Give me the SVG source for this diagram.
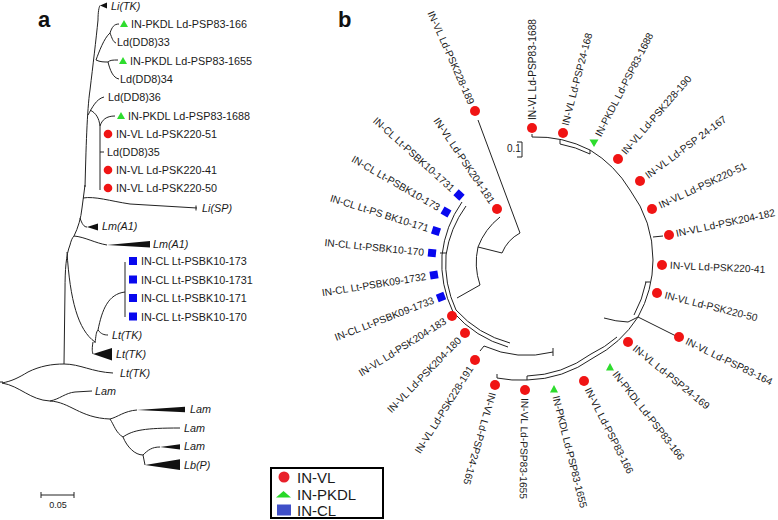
<svg xmlns="http://www.w3.org/2000/svg" width="778" height="520" viewBox="0 0 778 520">
<style>
text{font-family:"Liberation Sans",Arial,Helvetica,sans-serif;fill:#1a1a1a}
.la{font-size:10.8px}
.lb{font-size:10.2px}
.it{font-style:italic}
.br{fill:none;stroke:#222;stroke-width:1}
.vl{fill:#f01414}
.pk{fill:#2edc2e}
.cl{fill:#0808ee}
.wd{fill:#111}
.ttl{font-size:22px;font-weight:bold;fill:#111}
.lg{font-size:15px}
</style>
<defs>
<circle id="ca" r="4.3" class="vl"/>
<polygon id="ta" points="-4,3.5 4,3.5 0,-3.5" class="pk"/>
<rect id="sa" x="-4" y="-4" width="8" height="8" class="cl"/>
<circle id="cb" r="5" class="vl"/>
<rect id="sb" x="-4" y="-4" width="8" height="8" class="cl"/>
</defs>
<rect width="778" height="520" fill="#fff"/>

<!-- ============ PANEL A ============ -->
<text class="ttl" x="38" y="27">a</text>
<g id="a-connectors" class="br">
  <path d="M0,382 L3,382"/>
  <path d="M2,383 C12,381 18,378 28,372 C40,366 52,364 64,364"/>
  <path d="M2,383 C20,386 30,400 50,401 C70,402 80,418 110,419"/>
  <path d="M50,401 C60,399 65,393 75,392 L92,391"/>
  <path d="M110,419 C118,417 124,411 137,410"/>
  <path d="M110,419 C114,425 116,433 123,437"/>
  <path d="M123,437 C133,430 145,428 180,428"/>
  <path d="M123,437 C127,447 135,455 143,455"/>
  <path d="M143,455 C148,450 152,447 160,447"/>
  <path d="M143,455 L145,465"/>
  <path d="M64,364 C80,364 92,372 113,373"/>
  <path d="M64,364 L65,290 C65,270 66,255 70,245 C71,241 72,238 74,236"/>
  <path d="M67,252 C70,300 78,330 95,342"/>
  <path d="M95,343 C96,336 96,332 98,330"/>
  <path d="M98,330 C102,310 108,294 125,292"/>
  <path d="M98,330 C101,334 104,335 108,335"/>
  <path d="M93,342 C92,348 92,351 93,354"/>
  <path d="M125,262 L125,317"/>
  <path d="M74,236 C85,237 95,243 107,245"/>
  <path d="M74,236 C78,228 81,218 82,208 L85,185"/>
  <path d="M80,218 C82,224 84,227 87,227"/>
  <path d="M83,198 C95,196 110,201 130,204 L197,208"/>
  <path d="M196,205.5 L196,210.5"/>
  <path d="M85,187 C86,150 87,110 90,90 C93,65 96,40 98,20 C98,12 99,7 100,5.5"/>
  <path d="M88,115 C92,108 96,99 104,97"/>
  <path d="M90,110 C96,113 99,118 100,126 L100,190"/>
  <path d="M100,126 C102,120 106,116 115,116"/>
  <path d="M100,152 L104,152"/>
  <path d="M96,60 C99,52 104,38 110,33"/>
  <path d="M110,33 C112,27 114,24 119,24"/>
  <path d="M110,33 C112,38 113,42 116,43"/>
  <path d="M96,60 C100,62 104,62 108,62"/>
  <path d="M108,62 C110,60 113,60 118,60"/>
  <path d="M108,62 C110,70 113,78 119,79"/>
</g>
<g id="a-LiTK1"><polygon class="wd" points="100,5.5 107,2.5 107,8.5"/><text class="la it" x="111" y="9.5">Li(TK)</text></g>
<g id="a-PSP83-166"><use href="#ta" x="124" y="23.5"/><text class="la" x="131" y="27.5">IN-PKDL Ld-PSP83-166</text></g>
<g id="a-DD8-33"><text class="la" x="117" y="46">Ld(DD8)33</text></g>
<g id="a-PSP83-1655"><use href="#ta" x="123" y="60.5"/><text class="la" x="130" y="64.5">IN-PKDL Ld-PSP83-1655</text></g>
<g id="a-DD8-34"><text class="la" x="120" y="83">Ld(DD8)34</text></g>
<g id="a-DD8-36"><text class="la" x="108" y="101">Ld(DD8)36</text></g>
<g id="a-PSP83-1688"><use href="#ta" x="121" y="115.5"/><text class="la" x="128" y="119.5">IN-PKDL Ld-PSP83-1688</text></g>
<g id="a-PSK220-51"><use href="#ca" x="108" y="134"/><text class="la" x="116" y="138">IN-VL Ld-PSK220-51</text></g>
<g id="a-DD8-35"><text class="la" x="107" y="156">Ld(DD8)35</text></g>
<g id="a-PSK220-41"><use href="#ca" x="108" y="170"/><text class="la" x="116" y="174">IN-VL Ld-PSK220-41</text></g>
<g id="a-PSK220-50"><use href="#ca" x="108" y="188"/><text class="la" x="116" y="192">IN-VL Ld-PSK220-50</text></g>
<g id="a-LiSP"><text class="la it" x="202" y="212">Li(SP)</text></g>
<g id="a-LmA1-1"><polygon class="wd" points="87,227 98,223.5 98,230.5"/><text class="la it" x="102" y="230">Lm(A1)</text></g>
<g id="a-LmA1-2"><polygon class="wd" points="107,245 150,241 150,247.5"/><text class="la it" x="153" y="248">Lm(A1)</text></g>
<g id="a-PSBK10-173"><use href="#sa" x="133" y="261"/><text class="la" x="141" y="265">IN-CL Lt-PSBK10-173</text></g>
<g id="a-PSBK10-1731"><use href="#sa" x="133" y="279.5"/><text class="la" x="141" y="283.5">IN-CL Lt-PSBK10-1731</text></g>
<g id="a-PSBK10-171"><use href="#sa" x="133" y="298"/><text class="la" x="141" y="302">IN-CL Lt-PSBK10-171</text></g>
<g id="a-PSBK10-170"><use href="#sa" x="133" y="316.5"/><text class="la" x="141" y="320.5">IN-CL Lt-PSBK10-170</text></g>
<g id="a-LtTK1"><text class="la it" x="112" y="339">Lt(TK)</text></g>
<g id="a-LtTK2"><polygon class="wd" points="93,354 112,348 112,360.5"/><text class="la it" x="116" y="358">Lt(TK)</text></g>
<g id="a-LtTK3"><text class="la it" x="120" y="376.5">Lt(TK)</text></g>
<g id="a-Lam1"><text class="la it" x="95" y="395">Lam</text></g>
<g id="a-Lam2"><polygon class="wd" points="137,410 185,406.7 185,412.3"/><text class="la it" x="190" y="413">Lam</text></g>
<g id="a-Lam3"><text class="la it" x="184" y="432">Lam</text></g>
<g id="a-Lam4"><polygon class="wd" points="160,447 180,444.3 180,449.5"/><text class="la it" x="184" y="450">Lam</text></g>
<g id="a-LbP"><polygon class="wd" points="145,465 180,459.3 180,470"/><text class="la it" x="184" y="468.5">Lb(P)</text></g>
<g id="a-scale">
  <path class="br" d="M41,495 L74,495 M41,492 L41,498 M74,492 L74,498"/>
  <text x="58" y="507.5" text-anchor="middle" style="font-size:9px">0.05</text>
</g>

<!-- ============ PANEL B ============ -->
<text class="ttl" x="338" y="27">b</text>
<g id="b-connectors" class="br">
  <path d="M532,134 L532,137 A118,118 0 0 1 590,150 A118,118 0 0 1 630,190 A118,118 0 0 1 653,260 A118,118 0 0 1 638,317 A118,118 0 0 1 593,358 A118,118 0 0 1 527,380 A118,118 0 0 1 497,378 L497,374"/>
  <path d="M560,140 L560,144 A114,114 0 0 1 590,154 L590,150"/>
  <path d="M645,282 L650,282 M646,282 A114,114 0 0 1 634,315"/>
  <path d="M617,337 A114,114 0 0 1 591,354 A114,114 0 0 1 527,376 L527,380"/>
  <path d="M604,318 A95,95 0 0 0 628,322 L638,317"/>
  <path d="M638,317 L676,336"/>
  <path d="M653,237 L663,236"/>
  <path d="M553,348 L553,356 M480,351 L484,346 A105,105 0 0 0 553,352"/>
  <path d="M462,202 A115,115 0 0 0 442,255 A115,115 0 0 0 453,312 A115,115 0 0 0 508,347"/>
  <path d="M466,206 A111,111 0 0 0 446,255 A111,111 0 0 0 456,310 A111,111 0 0 0 510,343"/>
  <path d="M440,253 L446,253"/>
  <path d="M478,120 L520,233"/>
  <path d="M520,233 A40,40 0 0 0 502,253"/>
  <path d="M502,253 L478,247"/>
  <path d="M500,217 A70,70 0 0 0 478,247"/>
  <path d="M478,247 A70,70 0 0 0 480,285"/>
  <path d="M480,285 L457,298"/>
</g>
<g id="b-scale">
  <path class="br" d="M517,142 L522,142 L522,157 L517,157"/>
  <text x="507" y="152" style="font-size:10px">0.1</text>
</g>
<g id="b-PSK220-41"><use href="#cb" x="662" y="265"/><text class="lb" dy=".35em" transform="translate(670,265.3) rotate(2.4)">IN-VL Ld-PSK220-41</text></g>
<g id="b-PSK220-50"><use href="#cb" x="657" y="293"/><text class="lb" dy=".35em" transform="translate(664.8,294.9) rotate(14)">IN-VL Ld-PSK220-50</text></g>
<g id="b-PSP83-164"><use href="#cb" x="679" y="337"/><text class="lb" dy=".35em" transform="translate(686.2,340.5) rotate(26)">IN-VL Ld-PSP83-164</text></g>
<g id="b-PSP24-169"><use href="#cb" x="628" y="342"/><text class="lb" dy=".35em" transform="translate(634.2,347) rotate(39)">IN-VL Ld-PSP24-169</text></g>
<g id="b-PKDL-PSP83-166"><polygon class="pk" points="606,370.5 614,370.5 610,363"/><text class="lb" dy=".35em" transform="translate(614.9,372.3) rotate(52)">IN-PKDL Ld-PSP83-166</text></g>
<g id="b-VL-PSP83-166"><use href="#cb" x="584" y="381"/><text class="lb" dy=".35em" transform="translate(587.6,388.1) rotate(63)">IN-VL Ld-PSP83-166</text></g>
<g id="b-PKDL-PSP83-1655"><polygon class="pk" points="550,392.5 558,392.5 554,385"/><text class="lb" dy=".35em" transform="translate(555.9,395.8) rotate(76)">IN-PKDL Ld-PSP83-1655</text></g>
<g id="b-VL-PSP83-1655"><use href="#cb" x="525" y="390"/><text class="lb" dy=".35em" transform="translate(524.9,398) rotate(91)">IN-VL Ld-PSP83-1655</text></g>
<g id="b-PSP24-165"><use href="#cb" x="495" y="385"/><text class="lb" dy=".35em" transform="translate(492.8,392.7) rotate(106)">IN-VL Ld-PSP24-165</text></g>
<g id="b-PSK204-182"><use href="#cb" x="669" y="235"/><text class="lb" dy=".35em" transform="translate(676,233.4) rotate(-12)">IN-VL Ld-PSK204-182</text></g>
<g id="b-PSK220-51"><use href="#cb" x="652" y="209"/><text class="lb" dy=".35em" transform="translate(659.3,205.6) rotate(-25)">IN-VL Ld-PSK220-51</text></g>
<g id="b-PSP24-167"><use href="#cb" x="640" y="181"/><text class="lb" dy=".35em" transform="translate(646.4,176.2) rotate(-36.5)">IN-VL Ld-PSP 24-167</text></g>
<g id="b-PSK228-190"><use href="#cb" x="618" y="159"/><text class="lb" dy=".35em" transform="translate(623.2,153) rotate(-49)">IN-VL Ld-PSK228-190</text></g>
<g id="b-PKDL-PSP83-1688"><polygon class="pk" points="589.5,139.5 598.5,139.5 594,147"/><text class="lb" dy=".35em" transform="translate(597.7,135.9) rotate(-62.7)">IN-PKDL Ld-PSP83-1688</text></g>
<g id="b-PSP24-168"><use href="#cb" x="563" y="133"/><text class="lb" dy=".35em" transform="translate(565,125.3) rotate(-75.5)">IN-VL Ld-PSP24-168</text></g>
<g id="b-VL-PSP83-1688"><use href="#cb" x="532" y="128"/><text class="lb" dy=".35em" transform="translate(532,120) rotate(-90)">IN-VL Ld-PSP83-1688</text></g>
<g id="b-PSK228-189"><use href="#cb" x="475" y="111"/><text class="lb" dy=".35em" text-anchor="end" transform="translate(471.7,103.7) rotate(66)">IN-VL Ld-PSK228-189</text></g>
<g id="b-PSK204-181"><use href="#cb" x="497" y="209"/><text class="lb" dy=".35em" text-anchor="end" transform="translate(492.5,202.4) rotate(56)">IN-VL Ld-PSK204-181</text></g>
<g id="b-PSBK10-1731"><use href="#sb" transform="translate(459,195) rotate(42)"/><text class="lb" dy=".35em" text-anchor="end" transform="translate(453.1,189.6) rotate(42)">IN-CL Lt-PSBK10-1731</text></g>
<g id="b-PSBK10-173"><use href="#sb" transform="translate(446,212) rotate(30)"/><text class="lb" dy=".35em" text-anchor="end" transform="translate(439.1,208) rotate(30)">IN-CL Lt-PSBK10-173</text></g>
<g id="b-PSBK10-171"><use href="#sb" transform="translate(436,231) rotate(17.5)"/><text class="lb" dy=".35em" text-anchor="end" transform="translate(428.4,228.6) rotate(17.5)">IN-CL Lt-PS BK10-171</text></g>
<g id="b-PSBK10-170"><use href="#sb" transform="translate(432,253) rotate(5.6)"/><text class="lb" dy=".35em" text-anchor="end" transform="translate(424,252.2) rotate(5.6)">IN-CL Lt-PSBK10-170</text></g>
<g id="b-PSBK09-1732"><use href="#sb" transform="translate(434,275) rotate(-9)"/><text class="lb" dy=".35em" text-anchor="end" transform="translate(426.1,276.3) rotate(-9)">IN-CL Lt-PSBK09-1732</text></g>
<g id="b-PSBK09-1733"><use href="#sb" transform="translate(441,297) rotate(-21)"/><text class="lb" dy=".35em" text-anchor="end" transform="translate(433.5,299.9) rotate(-21)">IN-CL Lt-PSBK09-1733</text></g>
<g id="b-PSK204-183"><use href="#cb" x="452" y="316"/><text class="lb" dy=".35em" text-anchor="end" transform="translate(445.2,320.2) rotate(-32)">IN-VL Ld-PSK204-183</text></g>
<g id="b-PSK204-180"><use href="#cb" x="465" y="333"/><text class="lb" dy=".35em" text-anchor="end" transform="translate(459.4,338.7) rotate(-45.7)">IN-VL Ld-PSK204-180</text></g>
<g id="b-PSK228-191"><use href="#cb" x="475" y="360"/><text class="lb" dy=".35em" text-anchor="end" transform="translate(470.8,366.8) rotate(-58)">IN-VL Ld-PSK228-191</text></g>

<g id="legend">
  <rect x="271" y="468" width="112" height="50" fill="#fff" stroke="#000" stroke-width="2"/>
  <circle cx="284" cy="477" r="5.5" fill="#e8202a"/>
  <text class="lg" x="297" y="482.5">IN-VL</text>
  <polygon points="276,497.5 291,497.5 283.5,491" fill="#28d828"/>
  <text class="lg" x="297" y="499.5">IN-PKDL</text>
  <rect x="277" y="504.5" width="14" height="11" fill="#3f4fc8"/>
  <text class="lg" x="297" y="516">IN-CL</text>
</g>
</svg>
